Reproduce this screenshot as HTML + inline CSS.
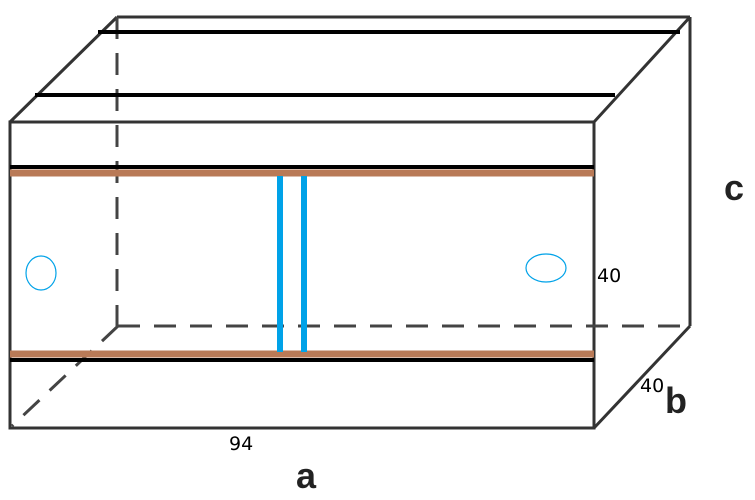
<!DOCTYPE html>
<html><head><meta charset="utf-8"><style>
html,body{margin:0;padding:0;background:#fff;width:755px;height:500px;overflow:hidden}
</style></head><body>
<svg width="755" height="500" xmlns="http://www.w3.org/2000/svg">
<g stroke="#333" stroke-width="3" fill="none">
<rect x="10" y="122" width="584" height="306"/>
<line x1="10" y1="122" x2="117" y2="17"/>
<line x1="117" y1="17" x2="690" y2="17"/>
<line x1="594" y1="122" x2="690" y2="17"/>
<line x1="690" y1="17" x2="690" y2="326"/>
<line x1="594" y1="428" x2="690" y2="326"/>
</g>
<g stroke="#444" stroke-width="3" fill="none" stroke-dasharray="22,14">
<line x1="117" y1="17" x2="117" y2="326"/>
<line x1="118" y1="326" x2="690" y2="326"/>
<line x1="118" y1="326" x2="12" y2="426"/>
</g>
<g stroke="#000" stroke-width="4">
<line x1="98" y1="32" x2="680" y2="32"/>
<line x1="35" y1="95" x2="615" y2="95"/>
<line x1="10" y1="167" x2="594" y2="167"/>
<line x1="10" y1="360" x2="594" y2="360"/>
</g>
<g stroke="#b97a57" stroke-width="7">
<line x1="10" y1="173" x2="594" y2="173"/>
<line x1="10" y1="354" x2="594" y2="354"/>
</g>
<g stroke="#00a2e8" stroke-width="6">
<line x1="280" y1="176" x2="280" y2="352"/>
<line x1="304" y1="176" x2="304" y2="352"/>
</g>
<ellipse cx="41" cy="273" rx="15" ry="17" fill="none" stroke="#00a2e8" stroke-width="1.2"/>
<ellipse cx="546" cy="268" rx="20" ry="14" fill="none" stroke="#00a2e8" stroke-width="1.2"/>
<g font-family="DejaVu Sans, sans-serif">
<text x="597" y="282" font-size="19">40</text>
<text x="640" y="392" font-size="19">40</text>
<text x="229" y="450" font-size="19">94</text>
</g>
<g font-family="Liberation Sans, sans-serif" font-weight="bold" fill="#222">
<text x="724" y="200" font-size="36">c</text>
<text x="665" y="413" font-size="36">b</text>
<text x="296" y="488" font-size="36">a</text>
</g>
</svg>
</body></html>
